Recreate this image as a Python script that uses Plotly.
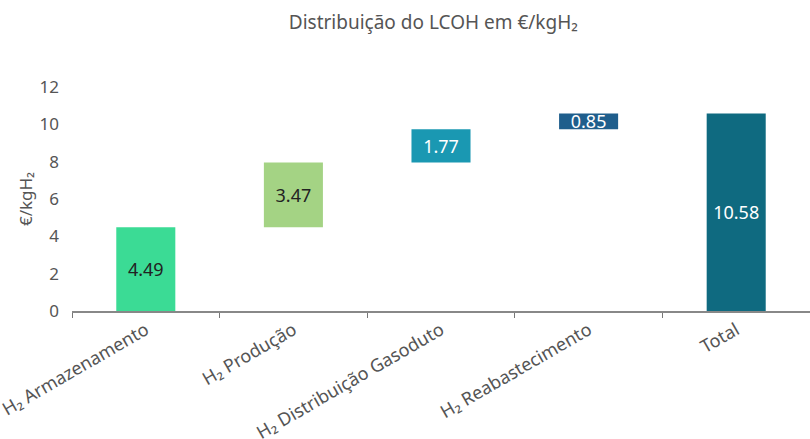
import plotly.graph_objects as go

# LCOH breakdown (€/kgH₂) by supply-chain stage
categories = ["H₂ Armazenamento", "H₂ Produção", "H₂ Distribuição Gasoduto",
              "H₂ Reabastecimento", "Total"]
stage_values = [4.49, 3.47, 1.77, 0.85]
bar_colors = ["#3bdb95", "#a4d384", "#1a98b2", "#1f5e8c", "#0f6a80"]
text_colors = ["#222222", "#222222", "#ffffff", "#ffffff", "#ffffff"]
y_ticks = [0, 2, 4, 6, 8, 10, 12]

# floating bars: each stage starts where the previous one ended
bases = []
running = 0.0
for v in stage_values:
    bases.append(running)
    running += v
total = round(running, 2)
values = stage_values + [total]
bases = bases + [0.0]

fig = go.Figure(
    go.Bar(
        x=categories,
        y=values,
        base=bases,
        width=0.4,
        marker=dict(color=bar_colors, line=dict(width=0)),
        text=[f"{v:.2f}" for v in values],
        textposition="inside",
        insidetextanchor="middle",
        constraintext="none",
        textfont=dict(size=18, color=text_colors, family="Noto Sans"),
        hoverinfo="skip",
    )
)

fig.update_layout(
    width=810,
    height=439,
    margin=dict(l=72, r=0, t=87, b=128),
    paper_bgcolor="white",
    plot_bgcolor="white",
    font=dict(family="Noto Sans", color="#555555"),
    showlegend=False,
    title=dict(
        text="Distribuição do LCOH em €/kgH₂",
        x=0.535,
        xanchor="center",
        y=0.95,
        yanchor="middle",
        font=dict(size=19, color="#555555"),
    ),
    xaxis=dict(
        automargin=False,
        tickangle=-30,
        tickson="boundaries",
        ticks="outside",
        ticklen=5,
        tickcolor="#777777",
        showline=True,
        linecolor="#888888",
        linewidth=1.5,
        showgrid=False,
        tickfont=dict(size=18, color="#555555"),
    ),
    yaxis=dict(
        automargin=False,
        range=[0, 12],
        tickvals=y_ticks,
        showgrid=False,
        zeroline=False,
        showline=False,
        ticklabelstandoff=12,
        tickfont=dict(size=17, color="#555555"),
        title=dict(text="€/kgH₂", font=dict(size=17, color="#555555"), standoff=2),
    ),
)

fig.write_html("out.html")
